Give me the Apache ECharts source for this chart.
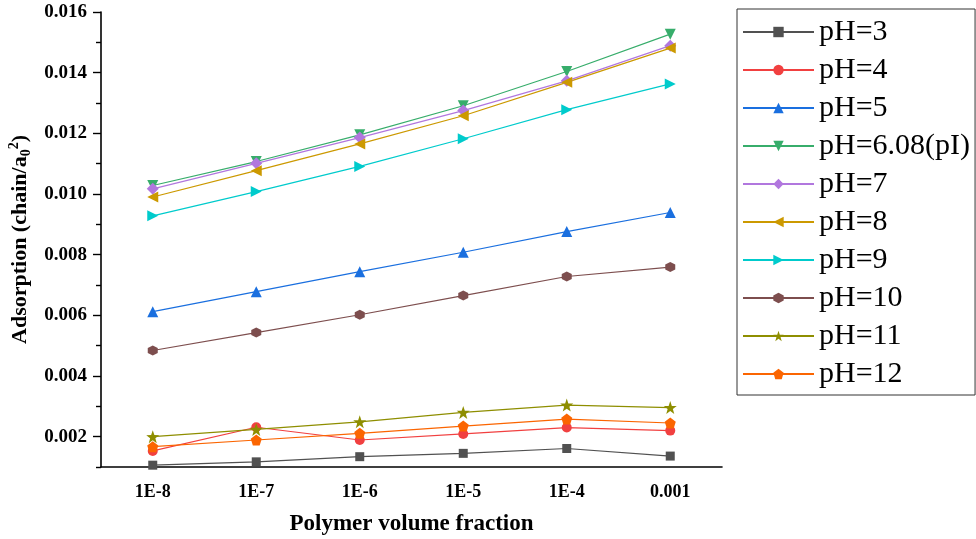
<!DOCTYPE html>
<html>
<head>
<meta charset="utf-8">
<title>Adsorption vs polymer volume fraction</title>
<script src="https://cdn.jsdelivr.net/npm/echarts@6/dist/echarts.min.js"></script>
<style>
  html, body { margin: 0; padding: 0; background: #fff; }
  #chart { width: 976px; height: 539px; }
</style>
</head>
<body>
<div id="chart"></div>
<script>
// Polymer volume fraction categories (tick labels)
const fractions = ['1E-8', '1E-7', '1E-6', '1E-5', '1E-4', '0.001'];

// Adsorption (chain/a0^2) for each pH
const ph3   = [0.00106, 0.00117, 0.00134, 0.00145, 0.00161, 0.00136];
const ph4   = [0.00153, 0.00231, 0.00189, 0.00209, 0.00230, 0.00220];
const ph5   = [0.00612, 0.00678, 0.00744, 0.00808, 0.00876, 0.00939];
const ph608 = [0.01028, 0.01107, 0.01195, 0.01291, 0.01404, 0.01527];
const ph7   = [0.01017, 0.01101, 0.01186, 0.01275, 0.01373, 0.01489];
const ph8   = [0.00990, 0.01077, 0.01165, 0.01258, 0.01368, 0.01481];
const ph9   = [0.00928, 0.01008, 0.01091, 0.01182, 0.01278, 0.01363];
const ph10  = [0.00484, 0.00543, 0.00602, 0.00665, 0.00728, 0.00759];
const ph11  = [0.00200, 0.00224, 0.00249, 0.00280, 0.00304, 0.00296];
const ph12  = [0.00167, 0.00189, 0.00211, 0.00235, 0.00258, 0.00245];

// Y axis tick values
const yMajorTicks = [0.002, 0.004, 0.006, 0.008, 0.010, 0.012, 0.014, 0.016];
const yMinorTicks = [0.001, 0.003, 0.005, 0.007, 0.009, 0.011, 0.013, 0.015];

const FONT = 'Liberation Serif';
const HEX = 'path://M0,-10 L8.66,-5 L8.66,5 L0,10 L-8.66,5 L-8.66,-5 Z';
const STAR = 'path://M0,-10 L2.35,-3.24 L9.51,-3.09 L3.80,1.24 L5.88,8.09 L0,4 L-5.88,8.09 L-3.80,1.24 L-9.51,-3.09 L-2.35,-3.24 Z';
const PENT = 'path://M0,-10 L9.51,-3.09 L5.88,8.09 L-5.88,8.09 L-9.51,-3.09 Z';

function makeSeries(name, data, color, symbol, size, rotate) {
  return {
    name: name,
    type: 'line',
    xAxisIndex: 0,
    yAxisIndex: 0,
    data: data,
    symbol: symbol,
    symbolSize: size,
    symbolRotate: rotate || 0,
    showAllSymbol: true,
    itemStyle: { color: color, opacity: 1 },
    lineStyle: { color: color, width: 1.2 },
    emphasis: { disabled: true }
  };
}

const chart = echarts.init(document.getElementById('chart'), null, { renderer: 'canvas' });

chart.setOption({
  animation: false,
  backgroundColor: '#ffffff',
  grid: { left: 101, top: 12, right: 254, bottom: 72, outerBoundsMode: 'none' },
  legend: {
    orient: 'vertical',
    left: 737,
    top: 9,
    padding: [8, 5, 6, 5],
    borderColor: '#333',
    borderWidth: 1,
    itemWidth: 71,
    itemHeight: 13,
    itemGap: 8,
    textStyle: { fontFamily: FONT, fontSize: 30, color: '#000', lineHeight: 30 },
    selectedMode: false
  },
  xAxis: [
    {
      type: 'category',
      data: fractions,
      boundaryGap: true,
      name: 'Polymer volume fraction',
      nameLocation: 'middle',
      nameGap: 46,
      nameTextStyle: { fontFamily: FONT, fontWeight: 'bold', fontSize: 23, color: '#000' },
      axisLine: { lineStyle: { color: '#000', width: 1.6 } },
      axisTick: { alignWithLabel: true, length: 8, lineStyle: { color: '#000', width: 1.4 } },
      axisLabel: { margin: 16, fontFamily: FONT, fontWeight: 'bold', fontSize: 18, color: '#000' },
      splitLine: { show: false }
    },
    {
      // minor ticks between categories
      type: 'category',
      data: fractions,
      boundaryGap: true,
      position: 'bottom',
      axisLine: { show: false },
      axisTick: { alignWithLabel: false, length: 5, lineStyle: { color: '#000', width: 1.4 } },
      axisLabel: { show: false },
      splitLine: { show: false }
    }
  ],
  yAxis: [
    {
      type: 'value',
      min: 0.001,
      max: 0.016,
      interval: 0.001,
      name: 'Adsorption (chain/a{sub|0}{sup|2})',
      nameLocation: 'middle',
      nameGap: 67,
      nameTextStyle: {
        fontFamily: FONT, fontWeight: 'bold', fontSize: 22, color: '#000', lineHeight: 26,
        rich: {
          sub: { fontFamily: FONT, fontWeight: 'bold', fontSize: 14, color: '#000', verticalAlign: 'bottom', lineHeight: 14 },
          sup: { fontFamily: FONT, fontWeight: 'bold', fontSize: 14, color: '#000', verticalAlign: 'top', lineHeight: 14 }
        }
      },
      axisLine: { show: true, lineStyle: { color: '#000', width: 1.6 } },
      axisTick: { show: true, length: 8, customValues: yMajorTicks, lineStyle: { color: '#000', width: 1.4 } },
      axisLabel: {
        margin: 14, fontFamily: FONT, fontWeight: 'bold', fontSize: 19, color: '#000',
        customValues: yMajorTicks,
        formatter: function (v) { return v.toFixed(3); }
      },
      splitLine: { show: false }
    },
    {
      // minor ticks on the value axis
      type: 'value',
      min: 0.001,
      max: 0.016,
      interval: 0.001,
      position: 'left',
      axisLine: { show: false },
      axisTick: { show: true, length: 5, customValues: yMinorTicks, lineStyle: { color: '#000', width: 1.4 } },
      axisLabel: { show: false },
      splitLine: { show: false }
    }
  ],
  series: [
    makeSeries('pH=3', ph3, '#515151', 'rect', 9),
    makeSeries('pH=4', ph4, '#F14040', 'circle', 10),
    makeSeries('pH=5', ph5, '#1A6FDF', 'triangle', 11),
    makeSeries('pH=6.08(pI)', ph608, '#37AD6B', 'triangle', 11, 180),
    makeSeries('pH=7', ph7, '#B177DE', 'diamond', 12),
    makeSeries('pH=8', ph8, '#CC9900', 'triangle', 11, 90),
    makeSeries('pH=9', ph9, '#00CBCC', 'triangle', 11, -90),
    makeSeries('pH=10', ph10, '#7D4E4E', HEX, 10),
    makeSeries('pH=11', ph11, '#8E8E00', STAR, 13),
    makeSeries('pH=12', ph12, '#FB6501', PENT, 11)
  ]
});
</script>
</body>
</html>
